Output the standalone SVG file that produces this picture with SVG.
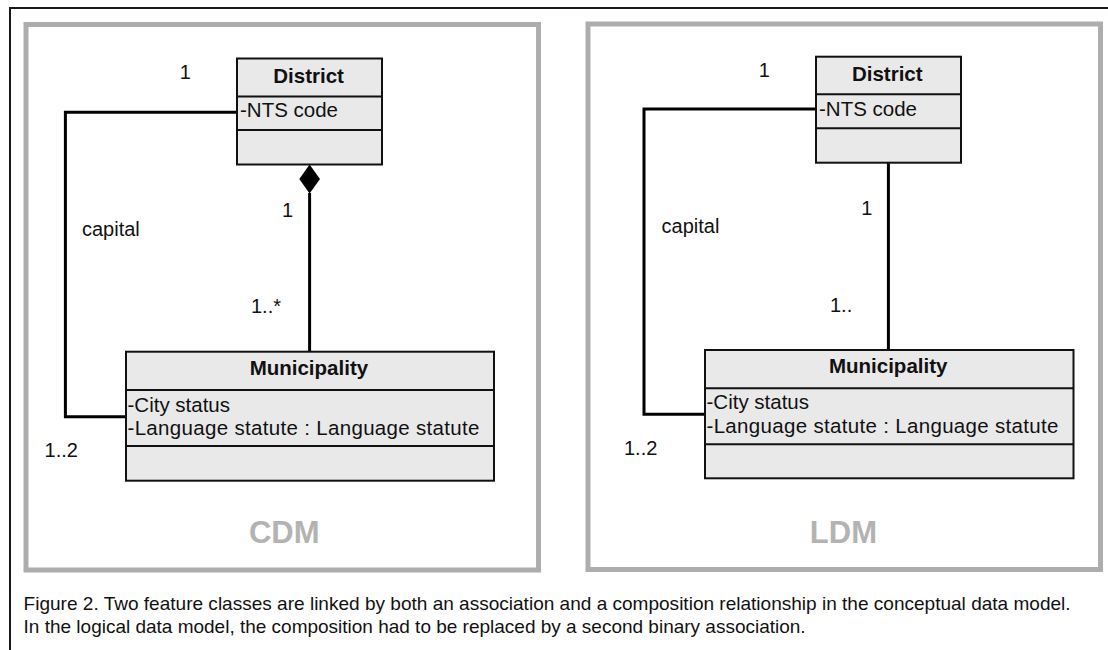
<svg xmlns="http://www.w3.org/2000/svg" width="1108" height="650" viewBox="0 0 1108 650">
<style>
.frame{fill:none;stroke:#1a1a1a;stroke-width:2}
.panel{fill:#ffffff;stroke:#adadad;stroke-width:5}
.cls{fill:#e9e9e9;stroke:#111;stroke-width:2}
.div{stroke:#111;stroke-width:2}
.conn{fill:none;stroke:#000;stroke-width:3}
.t{font-family:"Liberation Sans",Arial,sans-serif;font-size:20px;fill:#111}
.b{font-family:"Liberation Sans",Arial,sans-serif;font-size:20.5px;font-weight:bold;fill:#111;text-anchor:middle}
.a{font-family:"Liberation Sans",Arial,sans-serif;font-size:20.5px;fill:#111}
.m{font-family:"Liberation Sans",Arial,sans-serif;font-size:31px;font-weight:bold;fill:#b3b3b3;text-anchor:middle}
.cap{font-family:"Liberation Sans",Arial,sans-serif;font-size:18.5px;fill:#111}
</style>
<rect width="1108" height="650" fill="#ffffff"/>
<path class="frame" d="M10,650 V8 H1108"/>
<rect class="panel" x="26" y="24.5" width="512.5" height="545.5"/>
<rect class="panel" x="588" y="24" width="512.5" height="545.5"/>

<g id="connectors">
<path class="conn" d="M237,112.3 H65.4 V416.7 H126"/>
<path class="conn" d="M309.6,193 V351.7"/>
<polygon points="309.6,164.5 320,179 309.6,193.5 299.3,179" fill="#000"/>
<path class="conn" d="M816,109 H644 V414.3 H705"/>
<path class="conn" d="M888.4,162.7 V350"/>
<text class="t" x="185.4" y="79" text-anchor="middle">1</text>
<text class="t" x="287.5" y="217" text-anchor="middle">1</text>
<text class="t" x="82" y="236">capital</text>
<text class="t" x="251" y="313">1..*</text>
<text class="t" x="44.6" y="457.3">1..2</text>
<text class="t" x="764.4" y="76.7" text-anchor="middle">1</text>
<text class="t" x="866.8" y="215" text-anchor="middle">1</text>
<text class="t" x="661.6" y="233">capital</text>
<text class="t" x="830" y="311.7">1..</text>
<text class="t" x="624" y="455">1..2</text>
</g>

<g id="cdm-district">
<rect class="cls" x="237" y="58.5" width="145" height="106"/>
<line class="div" x1="237" y1="96.5" x2="382" y2="96.5"/>
<line class="div" x1="237" y1="130" x2="382" y2="130"/>
<text class="b" x="308.6" y="82.7">District</text>
<text class="a" x="240" y="117.3">-NTS code</text>
</g>

<g id="cdm-municipality">
<rect class="cls" x="126" y="351.7" width="368" height="129"/>
<line class="div" x1="126" y1="390" x2="494" y2="390"/>
<line class="div" x1="126" y1="446" x2="494" y2="446"/>
<text class="b" x="308.9" y="375">Municipality</text>
<text class="a" x="127.5" y="411.7">-City status</text>
<text class="a" x="127.5" y="435" textLength="352" lengthAdjust="spacing">-Language statute : Language statute</text>
</g>

<g id="ldm-district">
<rect class="cls" x="816" y="56.7" width="145" height="106"/>
<line class="div" x1="816" y1="94.3" x2="961" y2="94.3"/>
<line class="div" x1="816" y1="128.3" x2="961" y2="128.3"/>
<text class="b" x="887.3" y="80.7">District</text>
<text class="a" x="819" y="115.7">-NTS code</text>
</g>

<g id="ldm-municipality">
<rect class="cls" x="705" y="350" width="368.5" height="128.3"/>
<line class="div" x1="705" y1="388.3" x2="1073.5" y2="388.3"/>
<line class="div" x1="705" y1="444.3" x2="1073.5" y2="444.3"/>
<text class="b" x="888.2" y="372.7">Municipality</text>
<text class="a" x="706.5" y="409.3">-City status</text>
<text class="a" x="706.5" y="432.7" textLength="352" lengthAdjust="spacing">-Language statute : Language statute</text>
</g>

<text class="m" x="284.3" y="542.7">CDM</text>
<text class="m" x="843.4" y="542.7">LDM</text>

<text class="cap" x="23.6" y="610" textLength="1047" lengthAdjust="spacingAndGlyphs">Figure 2. Two feature classes are linked by both an association and a composition relationship in the conceptual data model.</text>
<text class="cap" x="23.6" y="633" textLength="782" lengthAdjust="spacingAndGlyphs">In the logical data model, the composition had to be replaced by a second binary association.</text>
</svg>
